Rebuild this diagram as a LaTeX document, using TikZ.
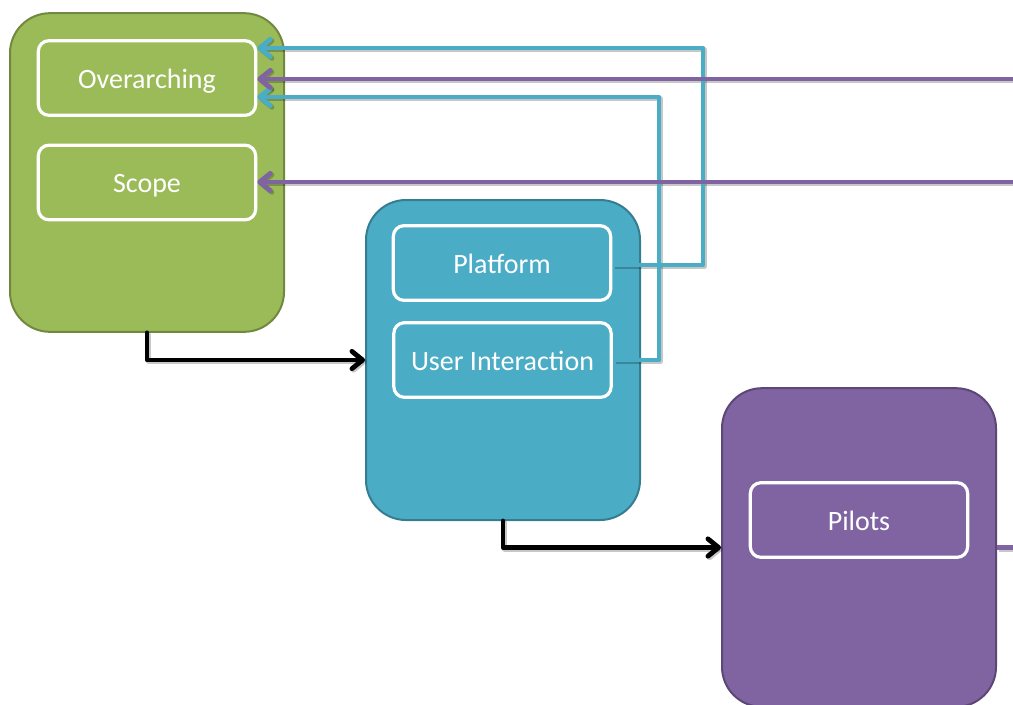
\documentclass[tikz,border=0pt]{standalone}
\usepackage{fontspec}
\setmainfont{Carlito}
\usetikzlibrary{arrows.meta,calc}

\definecolor{grnfill}{HTML}{9BBB59}
\definecolor{grnline}{HTML}{71893F}
\definecolor{blufill}{HTML}{4BACC6}
\definecolor{bluline}{HTML}{357D91}
\definecolor{purfill}{HTML}{8064A2}
\definecolor{purline}{HTML}{5C4776}

\tikzset{
  stage/.style={rectangle, rounded corners=30pt, line width=1.5pt,
    minimum width=205.5pt, inner sep=0pt},
  item/.style={rectangle, rounded corners=8pt, draw=white, line width=2.4pt,
    minimum width=163pt, minimum height=56pt, inner sep=0pt,
    text height=15pt, text depth=0pt,
    text=white, font=\fontsize{21}{25}\selectfont},
  tip/.style={-{Straight Barb[length=8pt,width=13pt,line cap=round,round]}},
  link/.style={line width=3.6pt, line cap=round, line join=round},
  linkshade/.style={draw=black, draw opacity=0.22},
}

% all connectors; arguments: colour styles for the cyan, purple and black lines
\newcommand\connectors[3]{%
  \draw[link, tip, line cap=butt, #1] ([xshift=1pt]pf.east |- 0,265) -| (703,48) -- ($(ov.east)+(0,-30)$);
  \draw[link, tip, line cap=butt, #1] ([xshift=1pt]ui.east) -| (659,97) -- ($(ov.east)+(0,19)$);
  \draw[link, tip, #2] (farA) -- (ov.east |- farA);
  \draw[link, tip, #2] (farB) -- (sc.east |- farB);
  \draw[link, line cap=butt, #2] (pur.east |- farC) -- (farC);
  \draw[link, tip, #3] (grn.south) |- (blu.west);
  \draw[link, tip, #3] (blu.south) |- (pur.west);
}

\begin{document}
\begin{tikzpicture}[x=0.75pt, y=-0.75pt]
  \useasboundingbox (0,0) rectangle (1013,704);

  % stage containers
  \node[stage, fill=grnfill, draw=grnline, minimum height=239pt] (grn) at (147,172.5) {};
  \node[stage, fill=blufill, draw=bluline, minimum height=240pt] (blu) at (503,360) {};
  \begin{scope}
    \clip (0,0) rectangle (1013,704);
    \node[stage, fill=purfill, draw=purline, minimum height=239pt] (pur) at (859,547.5) {};
  \end{scope}

  % items inside the stages
  \node[item, fill=grnfill] (ov) at (147,78) {Overarching};
  \node[item, fill=grnfill] (sc) at (147,182.5) {Scope};
  \node[item, fill=blufill] (pf) at (502,263) {Platform};
  \node[item, fill=blufill] (ui) at (502.5,360) {User Interaction};
  \node[item, fill=purfill] (pl) at (859,520) {Pilots};

  % off-page ends
  \coordinate (farA) at (1016,79);
  \coordinate (farB) at (1016,182);
  \coordinate (farC) at (1016,547.5);

  % soft shadow under the connectors, then the connectors
  \begin{scope}[transform canvas={xshift=1.2pt, yshift=-1.2pt}]
    \connectors{linkshade}{linkshade}{linkshade}
  \end{scope}
  \connectors{draw=blufill}{draw=purfill}{draw=black}
\end{tikzpicture}
\end{document}
